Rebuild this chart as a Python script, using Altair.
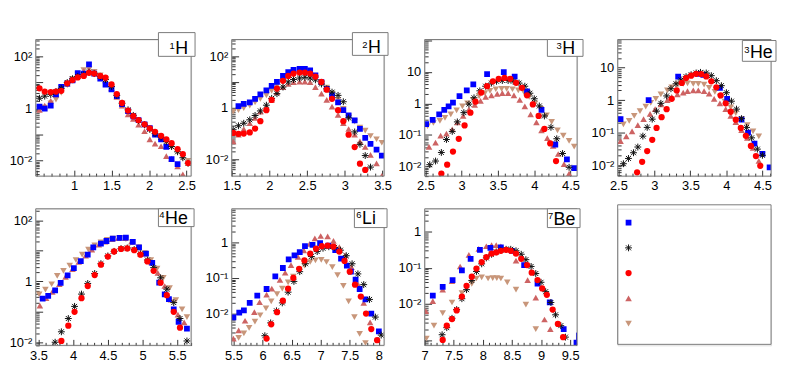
import altair as alt
import pandas as pd

FONT = "Liberation Sans"

# ---------------- data: 1H ----------------
H1_X = [0.54, 0.61, 0.69, 0.76, 0.83, 0.91, 0.98, 1.05, 1.13, 1.20, 1.27, 1.35, 1.42, 1.50,
        1.57, 1.64, 1.72, 1.79, 1.86, 1.94, 2.01, 2.08, 2.16, 2.23, 2.30, 2.38, 2.45, 2.52]
H1_SQ = [1.2, 1.0, 1.3, 3.5, 6.8, 9.0, 12, 23, 22, 50, 22, 14, 8.3, 5.5, 3.0, 1.5, 0.8, 0.5,
         0.36, 0.25, 0.18, 0.1, 0.066, 0.034, 0.0115, 0.0074, None, None]
H1_ST = [2.5, 3.0, 3.5, 4.5, 6, 10, 14, 17, 20, 25, 22, 17, 13, 7, 3.2, 1.6, 0.9, 0.55, 0.35,
         0.24, 0.16, 0.11, 0.08, 0.055, 0.035, 0.022, 0.013, 0.008]
H1_CI = [6.0, 4.5, 4.3, 4.5, 4.8, 9.3, 12.4, 15.7, 18, 23.5, 22, 18, 15.3, 8.5, 3.6, 1.64, 0.84,
         0.51, 0.36, 0.25, 0.176, 0.128, 0.09, 0.066, 0.047, 0.028, 0.018, 0.0081]
H1_TU = [0.9, 1.3, 2.0, 3.5, 5.5, 9, 13, 18, 28, 30, 25, 18, 12, 6, 2.8, 1.3, 0.6, 0.4, 0.24,
         0.135, 0.066, 0.045, 0.036, 0.015, 0.012, 0.006, 0.003, None]
H1_TD = [1.0, 1.1, 1.6, 2.2, 4, 8, 14, 20, 30, 32, 26, 19, 14, 6.5, 3.0, 1.5, 0.8, 0.5, 0.33,
         0.22, 0.15, 0.1, 0.07, 0.05, 0.033, 0.022, 0.013, 0.01]

# ---------------- data: 2H ----------------
H2_X = [1.52, 1.59, 1.66, 1.74, 1.81, 1.88, 1.96, 2.03, 2.10, 2.18, 2.25, 2.32, 2.40, 2.47,
        2.54, 2.61, 2.69, 2.76, 2.83, 2.91, 2.98, 3.05, 3.13, 3.20, 3.27, 3.34, 3.42, 3.49]
H2_SQ = [None, 1.16, 1.4, 1.6, 2.2, 3.3, 4.7, 7, 10, 17, 24, 29, 32, 32, 28, 18, 9.8, 5.4, 3.0,
         1.6, 0.8, 0.5, 0.32, 0.15, 0.068, 0.04, 0.024, 0.014]
H2_ST = [0.14, 0.2, 0.25, 0.34, 0.5, 0.75, 1.25, 2.3, 3.5, 6.3, 10, 12.3, 14, 15, 14, 12, 8.3,
         5.4, 4.0, 3.0, 1.7, 0.4, 0.115, 0.038, 0.014, 0.005, None, None]
H2_CI = [0.105, 0.097, 0.1, 0.11, 0.155, 0.3, 0.8, 2.0, 5.5, 11, 17, 21, 23, 23, 21, 16, 10, 5,
         2.2, 0.8, 0.3, 0.09, 0.03, 0.0068, 0.0039, None, None, None]
H2_TU = [0.05, 0.09, 0.15, 0.25, 0.4, 0.7, 1.1, 2.0, 4.0, 6.3, 8.3, 9.7, 10.3, 10.3, 9.7, 6.3,
         3.5, 2.0, 1.1, 0.53, 0.25, 0.15, 0.09, 0.05, 0.03, 0.015, 0.007, 0.0023]
H2_TD = [0.7, 0.8, 0.95, 1.2, 1.6, 2.2, 3, 4.5, 7, 11, 15, 18, 20, 20, 18, 14, 9, 6, 3.5, 2.0,
         0.9, 0.45, 0.29, 0.17, 0.13, 0.08, 0.06, 0.044]

# ---------------- data: 3H ----------------
H3_SQ_X = [2.51, 2.60, 2.69, 2.76, 2.82, 2.88, 2.97, 3.07, 3.16, 3.35, 3.58, 3.73, 3.90, 4.10,
           4.29, 4.45, 4.55]
H3_SQ = [0.22, 0.30, 0.45, 0.62, 0.8, 1.05, 1.7, 2.6, 4.0, 8.5, 9.7, 7.0, 2.4, 0.62, 0.05,
         0.017, 0.009]
H3_ST_X = [2.56, 2.64, 2.72, 2.79, 2.87, 2.94, 3.03, 3.10, 3.17, 3.25, 3.33, 3.41, 3.48, 3.56,
           3.64, 3.71, 3.79, 3.87, 3.94, 4.00, 4.07, 4.14, 4.23, 4.31, 4.39, 4.48]
H3_ST = [0.0115, 0.015, 0.028, 0.072, 0.13, 0.26, 0.51, 0.95, 1.5, 2.5, 3.5, 4.4, 5.0, 5.3, 5.3,
         5.0, 4.4, 3.5, 2.1, 1.4, 0.83, 0.4, 0.175, 0.076, 0.026, 0.0095]
H3_CI_X = [2.72, 2.80, 2.88, 2.96, 3.04, 3.12, 3.19, 3.27, 3.35, 3.43, 3.51, 3.59, 3.67, 3.75,
           3.83, 3.90, 3.98, 4.06, 4.14, 4.22, 4.30]
H3_CI = [0.006, 0.0115, 0.03, 0.076, 0.2, 0.51, 1.13, 2.2, 3.5, 5.0, 6.0, 6.4, 6.0, 4.5, 3.1, 1.8,
         0.93, 0.4, 0.155, 0.054, 0.015]
H3_TU_X = [2.55, 2.64, 2.71, 2.79, 2.87, 2.94, 3.02, 3.10, 3.18, 3.26, 3.33, 3.41, 3.49, 3.56,
           3.64, 3.72, 3.80, 3.87, 3.95, 4.03, 4.10, 4.18, 4.26, 4.33, 4.41, 4.48]
H3_TU = [0.042, 0.057, 0.095, 0.11, 0.15, 0.25, 0.4, 0.65, 0.9, 1.2, 1.6, 1.8, 2.0, 2.1, 2.1,
         1.8, 1.3, 0.8, 0.45, 0.25, 0.14, 0.08, 0.045, 0.025, 0.012, 0.006]
H3_TD_X = [2.53, 2.61, 2.70, 2.77, 2.85, 2.93, 3.01, 3.08, 3.16, 3.24, 3.32, 3.39, 3.47, 3.55,
           3.62, 3.70, 3.78, 3.86, 3.93, 4.01, 4.09, 4.17, 4.24, 4.32, 4.40, 4.48, 4.55]
H3_TD = [0.19, 0.24, 0.28, 0.35, 0.45, 0.6, 0.8, 1.0, 1.3, 1.7, 2.1, 2.5, 2.8, 2.9, 2.9, 2.8, 2.6,
         2.2, 1.6, 1.0, 0.67, 0.42, 0.26, 0.14, 0.095, 0.065, 0.043]

# ---------------- data: 3He ----------------
HE3_SQ_X = [2.53, 2.92, 3.33, 3.60, 3.68, 3.91, 4.01, 4.21, 4.30, 4.39, 4.50, 4.60]
HE3_SQ = [0.26, 1.0, 5.3, 6.5, 6.0, 2.4, 1.1, 0.25, 0.1, 0.046, 0.022, 0.0085]
HE3_ST_X = [2.57, 2.64, 2.71, 2.77, 2.84, 2.90, 2.97, 3.03, 3.09, 3.17, 3.23, 3.30, 3.37, 3.44,
            3.51, 3.58, 3.64, 3.72, 3.79, 3.86, 3.93, 4.00, 4.07, 4.14, 4.21, 4.28, 4.35, 4.43, 4.50]
HE3_ST = [0.011, 0.016, 0.024, 0.036, 0.078, 0.145, 0.26, 0.46, 0.8, 1.35, 2.25, 3.2, 4.2, 5.3,
          6.1, 6.9, 7.2, 6.9, 5.7, 4.0, 2.8, 1.7, 0.93, 0.53, 0.27, 0.145, 0.069, 0.031, 0.02]
HE3_CI_X = [2.76, 2.83, 2.90, 2.97, 3.03, 3.10, 3.17, 3.24, 3.31, 3.38, 3.44, 3.51, 3.58, 3.65,
            3.72, 3.79, 3.86, 3.92, 3.99, 4.06, 4.13, 4.20, 4.27, 4.34, 4.41, 4.47]
HE3_CI = [0.006, 0.0126, 0.027, 0.06, 0.14, 0.3, 0.53, 1.1, 2.0, 3.4, 4.8, 5.7, 6.5, 6.4, 5.4,
          3.8, 2.5, 1.4, 0.8, 0.44, 0.25, 0.14, 0.08, 0.039, 0.019, 0.0095]
HE3_TU_X = [2.53, 2.61, 2.69, 2.77, 2.85, 2.94, 3.01, 3.09, 3.18, 3.24, 3.32, 3.40, 3.46, 3.54,
            3.61, 3.69, 3.76, 3.83, 3.91, 3.99, 4.06, 4.13, 4.21, 4.29, 4.37, 4.45]
HE3_TU = [0.055, 0.077, 0.11, 0.17, 0.26, 0.38, 0.53, 0.74, 1.0, 1.26, 1.5, 1.7, 1.9, 2.0, 2.0,
          1.9, 1.6, 1.1, 0.8, 0.53, 0.33, 0.21, 0.12, 0.069, 0.034, 0.0135]
HE3_TD_X = [2.57, 2.65, 2.72, 2.80, 2.88, 2.95, 3.02, 3.09, 3.18, 3.24, 3.32, 3.40, 3.46, 3.54,
            3.61, 3.69, 3.76, 3.84, 3.91, 3.98, 4.06, 4.13, 4.21, 4.29, 4.37, 4.45]
HE3_TD = [0.18, 0.23, 0.33, 0.46, 0.63, 0.83, 1.1, 1.5, 2.0, 2.5, 3.0, 3.2, 3.3, 3.2, 3.2, 3.0,
          2.4, 1.8, 1.3, 0.9, 0.6, 0.4, 0.26, 0.17, 0.11, 0.077]

# ---------------- data: 4He ----------------
HE4_SQ_X = [3.56, 3.64, 3.74, 3.82, 3.92, 4.01, 4.11, 4.21, 4.29, 4.40, 4.48, 4.57, 4.67, 4.76,
            4.86, 4.95, 5.05, 5.14, 5.24, 5.32, 5.38, 5.45, 5.52, 5.64]
HE4_SQ = [0.27, 0.33, 0.5, 0.88, 1.57, 2.7, 4.6, 7.5, 13, 17.2, 21, 25, 26.4, 27, 19.5, 13, 8.1,
          4.0, 0.9, 0.37, 0.26, 0.12, 0.047, 0.028]
HE4_ST_X = [3.74, 3.83, 3.93, 4.02, 4.12, 4.21, 4.31, 4.40, 4.50, 4.59, 4.69, 4.78, 4.88, 4.97,
            5.07, 5.16, 5.26, 5.35, 5.45, 5.54, 5.64]
HE4_ST = [0.01, 0.022, 0.06, 0.15, 0.38, 0.85, 1.8, 3.8, 6.8, 9.6, 11.8, 12.4, 11, 8, 5, 2.8, 1.3,
          0.55, 0.2, 0.06, 0.011]
HE4_CI_X = [3.83, 3.93, 4.02, 4.12, 4.21, 4.31, 4.40, 4.50, 4.59, 4.69, 4.78, 4.88, 4.97, 5.07,
            5.16, 5.26, 5.35, 5.45, 5.54]
HE4_CI = [0.011, 0.035, 0.1, 0.28, 0.7, 1.6, 3.5, 6.5, 9.5, 11.5, 12, 10.5, 7.5, 4.5, 2.2, 0.9,
          0.35, 0.1, 0.03]
HE4_TU_X = [3.52, 3.61, 3.70, 3.80, 3.89, 3.99, 4.08, 4.18, 4.27, 4.37, 4.46, 4.56, 4.65, 4.75,
            4.84, 4.94, 5.03, 5.13, 5.22, 5.32, 5.41, 5.51, 5.60]
HE4_TU = [0.16, 0.28, 0.45, 0.8, 1.4, 2.5, 4.3, 7, 11, 16, 20, 24, 26, 26, 20, 13, 8, 4.2, 1.9,
          0.7, 0.25, 0.08, 0.045]
HE4_TD_X = [3.51, 3.60, 3.69, 3.77, 3.86, 3.95, 4.04, 4.13, 4.22, 4.31, 4.40, 4.49, 4.58, 4.67,
            4.76, 4.85, 4.94, 5.03, 5.12, 5.21, 5.30, 5.39, 5.48, 5.57, 5.64]
HE4_TD = [0.37, 0.53, 0.8, 1.5, 2.2, 3.3, 5, 7.5, 11, 15, 19, 23, 25, 26, 24, 19, 13, 8.5, 5, 2.6,
          1.3, 0.6, 0.24, 0.12, 0.067]

# ---------------- data: 6Li ----------------
LI6_SQ_X = [5.50, 5.60, 5.68, 5.78, 5.91, 6.07, 6.22, 6.35, 6.45, 6.55, 6.64, 6.73, 6.86, 6.99,
            7.13, 7.25, 7.35, 7.45, 7.52, 7.60, 7.67, 7.77, 7.87, 8.00]
LI6_SQ = [0.0078, 0.0107, 0.0124, 0.02, 0.032, 0.049, 0.11, 0.19, 0.33, 0.43, 0.53, 0.78, 0.84,
          0.94, 0.81, 0.6, 0.35, 0.22, 0.15, 0.09, 0.049, 0.025, 0.01, 0.0032]
LI6_ST_X = [6.04, 6.14, 6.24, 6.34, 6.44, 6.54, 6.64, 6.74, 6.84, 6.94, 7.04, 7.14, 7.24, 7.34,
            7.44, 7.54, 7.64, 7.74, 7.84, 7.94, 8.04]
LI6_ST = [0.0024, 0.0055, 0.012, 0.02, 0.04, 0.08, 0.15, 0.25, 0.4, 0.55, 0.68, 0.75, 0.72, 0.6,
          0.42, 0.25, 0.13, 0.065, 0.025, 0.008, 0.0025]
LI6_CI_X = [6.07, 6.15, 6.25, 6.35, 6.44, 6.53, 6.63, 6.72, 6.82, 6.92, 7.02, 7.12, 7.22, 7.32,
            7.41, 7.50, 7.59, 7.69, 7.78, 7.87, 7.97]
LI6_CI = [0.002, 0.005, 0.011, 0.023, 0.05, 0.1, 0.18, 0.31, 0.48, 0.66, 0.78, 0.8, 0.75, 0.55,
          0.3, 0.15, 0.065, 0.03, 0.01, 0.0037, 0.0018]
LI6_TU_X = [5.50, 5.59, 5.70, 5.86, 5.95, 6.07, 6.16, 6.30, 6.39, 6.49, 6.61, 6.71, 6.81, 6.90,
            7.00, 7.12, 7.22, 7.32, 7.42, 7.53, 7.64, 7.74, 7.85]
LI6_TU = [0.002, 0.0034, 0.0063, 0.011, 0.021, 0.034, 0.05, 0.088, 0.14, 0.23, 0.39, 0.59, 0.9,
          1.29, 1.5, 1.46, 1.1, 0.73, 0.43, 0.2, 0.067, 0.02, 0.0057]
LI6_TD_X = [5.59, 5.68, 5.77, 5.87, 5.96, 6.06, 6.15, 6.25, 6.34, 6.44, 6.53, 6.63, 6.72, 6.82,
            6.91, 7.01, 7.10, 7.20, 7.29, 7.39, 7.48, 7.58, 7.67, 7.77]
LI6_TD = [0.0021, 0.0028, 0.004, 0.006, 0.009, 0.014, 0.022, 0.035, 0.05, 0.075, 0.11, 0.16, 0.22,
          0.28, 0.31, 0.32, 0.28, 0.2, 0.12, 0.06, 0.022, 0.008, 0.0027, 0.0015]

# ---------------- data: 7Be ----------------
BE7_SQ_X = [7.14, 7.31, 7.48, 7.64, 7.79, 7.95, 8.13, 8.31, 8.50, 8.71, 8.94, 9.15, 9.39, 9.61]
BE7_SQ = [0.017, 0.03, 0.046, 0.086, 0.18, 0.32, 0.36, 0.37, 0.3, 0.12, 0.037, 0.011, 0.002,
          0.00085]
BE7_SQ_LO = [None, None, None, None, None, None, None, None, None, None, None, None, None, 0.0005]
BE7_SQ_HI = [None, None, None, None, None, None, None, None, None, None, None, None, None, 0.0016]
BE7_ST_X = [7.30, 7.38, 7.47, 7.55, 7.64, 7.72, 7.81, 7.89, 7.98, 8.06, 8.15, 8.23, 8.31, 8.40,
            8.48, 8.57, 8.66, 8.74, 8.83, 8.91, 9.00, 9.08, 9.17, 9.25, 9.34, 9.42]
BE7_ST = [0.0014, 0.0022, 0.004, 0.007, 0.014, 0.025, 0.045, 0.08, 0.13, 0.19, 0.24, 0.28, 0.31,
          0.33, 0.33, 0.3, 0.24, 0.17, 0.11, 0.07, 0.04, 0.022, 0.011, 0.005, 0.0025, 0.0012]
BE7_CI_X = [7.31, 7.38, 7.47, 7.55, 7.64, 7.72, 7.81, 7.89, 7.98, 8.06, 8.15, 8.23, 8.31, 8.40,
            8.48, 8.57, 8.66, 8.76, 8.84, 8.94, 9.02, 9.10, 9.20, 9.29, 9.38]
BE7_CI = [0.001, 0.0025, 0.0038, 0.0066, 0.016, 0.032, 0.057, 0.096, 0.146, 0.2, 0.25, 0.27, 0.3,
          0.32, 0.3, 0.25, 0.18, 0.12, 0.074, 0.046, 0.027, 0.018, 0.007, 0.0028, 0.0012]
BE7_TU_X = [7.02, 7.14, 7.31, 7.47, 7.61, 7.76, 7.93, 8.06, 8.15, 8.23, 8.31, 8.42, 8.57, 8.77,
            8.91, 9.06, 9.16]
BE7_TU = [0.0063, 0.012, 0.025, 0.043, 0.11, 0.23, 0.34, 0.4, 0.43, 0.43, 0.4, 0.33, 0.16, 0.046,
          0.015, 0.0037, 0.002]
BE7_TD_X = [7.03, 7.16, 7.31, 7.47, 7.64, 7.81, 7.89, 7.98, 8.09, 8.17, 8.24, 8.31, 8.42, 8.57,
            8.74, 8.91]
BE7_TD = [0.0011, 0.0025, 0.0056, 0.011, 0.02, 0.036, 0.051, 0.055, 0.051, 0.052, 0.052, 0.051,
          0.04, 0.025, 0.0096, 0.002]

PANEL_SUP = ["1", "2", "3", "3", "4", "6", "7"]
PANEL_EL = ["H", "H", "H", "He", "He", "Li", "Be"]
LEGEND_KEYS = ["sq", "st", "ci", "tu", "td"]

# ---------------- styling ----------------
STAR = "M-1,0H1M0,-1V1M-0.72,-0.72L0.72,0.72M-0.72,0.72L0.72,-0.72"
MARK = {
    "sq": dict(shape="square", filled=True, color="#0000ff", size=34, opacity=1),
    "st": dict(shape=STAR, filled=False, color="#111111", strokeWidth=1, size=48, opacity=1),
    "ci": dict(shape="circle", filled=True, color="#ff0000", size=40, opacity=1),
    "tu": dict(shape="triangle-up", filled=True, color="#cd6363", size=44, opacity=1),
    "td": dict(shape="triangle-down", filled=True, color="#c8967a", size=44, opacity=1),
}
DRAW_ORDER = ["td", "tu", "sq", "st", "ci"]
FRAME_C = "#7a7a7a"
H = 138

YLAB_EXPR = ("datum.value >= 50 ? '10\u00b2' : datum.value >= 5 ? '10' : datum.value >= 0.5 ? '1' : "
             "datum.value >= 0.05 ? '10\u207b\u00b9' : datum.value >= 0.005 ? '10\u207b\u00b2' : '10\u207b\u00b3'")

PANELS = [
    dict(series={"sq": (H1_X, H1_SQ), "st": (H1_X, H1_ST), "ci": (H1_X, H1_CI),
                 "tu": (H1_X, H1_TU), "td": (H1_X, H1_TD)},
         xdom=[0.49, 2.56], ydom=[0.00257, 447], xlab=[1, 1.5, 2, 2.5], ylab=[0.01, 1, 100],
         w=157, box=(124, 161, -7, 17), ex=141, eb=14.7),
    dict(series={"sq": (H2_X, H2_SQ), "st": (H2_X, H2_ST), "ci": (H2_X, H2_CI),
                 "tu": (H2_X, H2_TU), "td": (H2_X, H2_TD)},
         xdom=[1.5, 3.52], ydom=[0.00224, 437], xlab=[1.5, 2, 2.5, 3, 3.5], ylab=[0.01, 1, 100],
         w=154, box=(122, 158, -7, 16), ex=137.7, eb=13.7),
    dict(series={"sq": (H3_SQ_X, H3_SQ), "st": (H3_ST_X, H3_ST), "ci": (H3_CI_X, H3_CI),
                 "tu": (H3_TU_X, H3_TU), "td": (H3_TD_X, H3_TD)},
         xdom=[2.49, 4.59], ydom=[0.005, 105], xlab=[2.5, 3, 3.5, 4, 4.5], ylab=[0.01, 0.1, 1, 10],
         w=154, box=(124, 160, 0, 17), ex=139, eb=14.7),
    dict(series={"sq": (HE3_SQ_X, HE3_SQ), "st": (HE3_ST_X, HE3_ST), "ci": (HE3_CI_X, HE3_CI),
                 "tu": (HE3_TU_X, HE3_TU), "td": (HE3_TD_X, HE3_TD)},
         xdom=[2.49, 4.62], ydom=[0.00457, 74], xlab=[2.5, 3, 3.5, 4, 4.5], ylab=[0.01, 0.1, 1, 10],
         w=155, box=(126, 160, 1, 22), ex=133.7, eb=19),
    dict(series={"sq": (HE4_SQ_X, HE4_SQ), "st": (HE4_ST_X, HE4_ST), "ci": (HE4_CI_X, HE4_CI),
                 "tu": (HE4_TU_X, HE4_TU), "td": (HE4_TD_X, HE4_TD)},
         xdom=[3.46, 5.70], ydom=[0.0079, 240], xlab=[3.5, 4, 4.5, 5, 5.5], ylab=[0.01, 1, 100],
         w=157, box=(124, 160, 0, 18), ex=130.7, eb=15.3),
    dict(series={"sq": (LI6_SQ_X, LI6_SQ), "st": (LI6_ST_X, LI6_ST), "ci": (LI6_CI_X, LI6_CI),
                 "tu": (LI6_TU_X, LI6_TU), "td": (LI6_TD_X, LI6_TD)},
         xdom=[5.47, 8.09], ydom=[0.00129, 8.7], xlab=[5.5, 6, 6.5, 7, 7.5, 8], ylab=[0.01, 0.1, 1],
         w=154, box=(124, 157, 0, 19), ex=131.7, eb=15),
    dict(series={"sq": (BE7_SQ_X, BE7_SQ), "st": (BE7_ST_X, BE7_ST), "ci": (BE7_CI_X, BE7_CI),
                 "tu": (BE7_TU_X, BE7_TU), "td": (BE7_TD_X, BE7_TD)},
         xdom=[7.0, 9.62], ydom=[0.00071, 4.4], xlab=[7, 7.5, 8, 8.5, 9, 9.5], ylab=[0.01, 0.1, 1],
         w=154, box=(124, 157, 0, 19), ex=130.3, eb=16,
         err=(BE7_SQ_X, BE7_SQ_LO, BE7_SQ_HI)),
]

ONE = pd.DataFrame({"k": [0]})


def log_ticks(lo, hi):
    out = []
    for e in range(-5, 5):
        for m in range(1, 10):
            v = m * 10.0 ** e
            if lo <= v <= hi:
                out.append(v)
    return out


def lin_ticks(lo, hi):
    out = []
    i = int(lo * 10) - 1
    while i / 10 <= hi + 1e-9:
        v = round(i / 10, 6)
        if lo - 1e-9 <= v <= hi + 1e-9:
            out.append(v)
        i += 1
    return out


def build_panel(idx, p):
    w = p["w"]
    xs = alt.Scale(domain=p["xdom"], nice=False, zero=False)
    ys = alt.Scale(type="log", domain=p["ydom"], nice=False)
    cx, cy = p["series"]["ci"]
    d0 = pd.DataFrame({"x": cx, "y": cy}).dropna()

    lab = alt.Chart(d0).mark_point(opacity=0).encode(
        x=alt.X("x:Q", scale=xs, axis=alt.Axis(
            orient="bottom", values=p["xlab"], format="~g", ticks=False, domain=False, grid=False,
            labelFont=FONT, labelFontSize=13, labelColor="black", labelPadding=4, title=None,
            labelFlush=False, labelOverlap=False)),
        y=alt.Y("y:Q", scale=ys, axis=alt.Axis(
            orient="left", values=p["ylab"], labelExpr=YLAB_EXPR, ticks=False, domain=False,
            grid=False, labelFont=FONT, labelFontSize=13, labelColor="black", labelPadding=4,
            title=None, labelFlush=False, labelOverlap=False)),
    )
    tk = alt.Chart(d0).mark_point(opacity=0).encode(
        x=alt.X("x:Q", scale=xs, axis=alt.Axis(
            orient="top", offset=-H, values=lin_ticks(*p["xdom"]), labels=False, domain=False,
            grid=False, ticks=True, tickColor="#333333", tickWidth=1,
            tickSize={"condition": {"test": "abs(datum.value*2 - round(datum.value*2)) < 0.001",
                                    "value": 6}, "value": 3},
            title=None)),
        y=alt.Y("y:Q", scale=ys, axis=alt.Axis(
            orient="right", offset=-w, values=log_ticks(*p["ydom"]), labels=False, domain=False,
            grid=False, ticks=True, tickColor="#333333", tickWidth=1,
            tickSize={"condition": {"test": "abs(log(datum.value)/LN10 - round(log(datum.value)/LN10)) < 0.001",
                                    "value": 7}, "value": 3.5},
            title=None)),
    )
    layers = [lab, tk]
    if "err" in p:
        ex_, lo_, hi_ = p["err"]
        de = pd.DataFrame({"x": ex_, "lo": lo_, "hi": hi_}).dropna()
        layers.append(alt.Chart(de).mark_rule(color="#0000ff", strokeWidth=1, clip=True).encode(
            x=alt.X("x:Q", scale=xs, axis=None),
            y=alt.Y("lo:Q", scale=ys, axis=None),
            y2="hi:Q"))
    for key in DRAW_ORDER:
        xv, yv = p["series"][key]
        df = pd.DataFrame({"x": xv, "y": yv}).dropna()
        layers.append(alt.Chart(df).mark_point(clip=True, **MARK[key]).encode(
            x=alt.X("x:Q", scale=xs, axis=None),
            y=alt.Y("y:Q", scale=ys, axis=None)))
    frame = alt.Chart(ONE).mark_rect(filled=False, stroke=FRAME_C, strokeWidth=1).encode(
        x=alt.value(0), x2=alt.value(w), y=alt.value(0), y2=alt.value(H))
    bx1, bx2, by1, by2 = p["box"]
    box = alt.Chart(ONE).mark_rect(fill="white", stroke=FRAME_C, strokeWidth=1).encode(
        x=alt.value(bx1), x2=alt.value(bx2), y=alt.value(by1), y2=alt.value(by2))
    tdf = pd.DataFrame({"sup": [PANEL_SUP[idx]], "el": [PANEL_EL[idx]]})
    el = alt.Chart(tdf).mark_text(font=FONT, fontSize=18, align="left", baseline="alphabetic",
                                  color="black").encode(
        x=alt.value(p["ex"]), y=alt.value(p["eb"]), text="el:N")
    sup = alt.Chart(tdf).mark_text(font=FONT, fontSize=9.5, align="right", baseline="alphabetic",
                                   color="black").encode(
        x=alt.value(p["ex"] - 0.5), y=alt.value(p["eb"] - 5.5), text="sup:N")
    layers += [frame, box, el, sup]
    return alt.layer(*layers).resolve_axis(x="independent", y="independent").properties(
        width=w, height=H)


def build_legend():
    w = 155
    layers = []
    for key in LEGEND_KEYS:
        df = pd.DataFrame({"k": [key]})
        layers.append(alt.Chart(df).mark_point(**MARK[key]).encode(
            x=alt.value(11),
            y=alt.Y("k:N", scale=alt.Scale(type="point", domain=LEGEND_KEYS, range=[14, 116],
                                           padding=0), axis=None)))
    frame = alt.Chart(ONE).mark_rect(filled=False, stroke=FRAME_C, strokeWidth=1).encode(
        x=alt.value(0), x2=alt.value(w), y=alt.value(-4), y2=alt.value(H - 1))
    return alt.layer(frame, *layers).properties(width=w, height=H)


charts = [build_panel(i, p) for i, p in enumerate(PANELS)] + [build_legend()]
chart = alt.concat(*charts, columns=4, spacing={"row": 33, "column": 41}, bounds="flush").properties(
    padding={"left": 0, "top": 22, "right": 0, "bottom": 0}
).configure_view(stroke=None).configure(background="white")

chart.save("out.html", embed_options={"renderer": "svg", "actions": False})
